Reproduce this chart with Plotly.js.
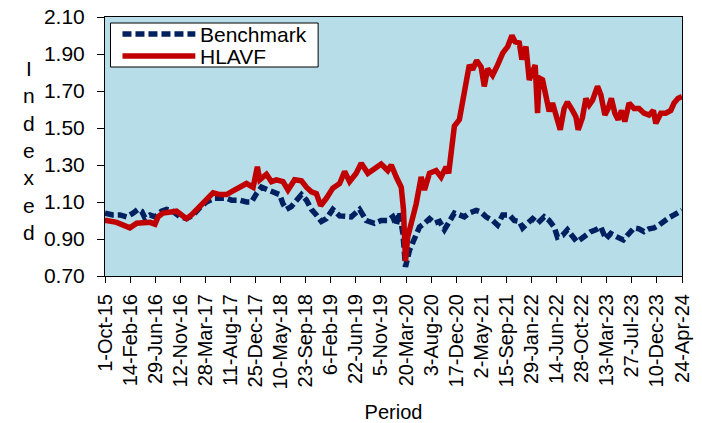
<!DOCTYPE html>
<html>
<head>
<meta charset="utf-8">
<script src="https://cdn.plot.ly/plotly-3.0.1.min.js"></script>
<style>
html,body{margin:0;padding:0;background:#fff;}
#chart{width:702px;height:423px;}
</style>
</head>
<body>
<div id="chart"></div>
<script>
// Day offsets from 1-Oct-2015 and indexed values
const benchDays = [0,43,81,117,152,179,199,216,244,271,307,334,368,406,442,478,514,550,595,632,659,686,731,767,794,821,848,884,920,947,965,983,1010,1037,1065,1092,1119,1146,1173,1200,1235,1272,1299,1335,1380,1416,1461,1497,1533,1560,1579,1596,1615,1629,1651,1678,1705,1732,1759,1786,1813,1840,1867,1894,1921,1948,1975,2012,2039,2066,2101,2128,2156,2192,2219,2246,2264,2291,2318,2345,2381,2408,2435,2453,2480,2507,2534,2558,2580,2607,2634,2661,2688,2715,2742,2778,2810,2841,2868,2895,2922,2949,2976,3003,3030,3057,3085,3110,3128];
const benchIndex = [1.04,1.03,1.03,1.02,1.04,1.06,1.05,1.015,1.03,1.02,1.05,1.06,1.05,1.02,1.01,1.03,1.07,1.10,1.12,1.12,1.12,1.11,1.11,1.10,1.10,1.145,1.18,1.165,1.155,1.14,1.09,1.06,1.075,1.11,1.14,1.11,1.06,1.03,0.995,1.01,1.06,1.025,1.02,1.02,1.06,1.00,0.985,1.00,1.00,1.02,0.975,1.045,0.93,0.75,0.84,0.895,0.965,0.985,1.01,0.985,0.995,0.95,1.00,1.04,1.03,1.02,1.04,1.055,1.045,1.02,1.00,0.975,1.03,1.03,1.00,0.995,0.96,0.985,1.01,0.985,1.02,1.00,0.965,0.91,0.92,0.95,0.92,0.885,0.90,0.92,0.94,0.95,0.965,0.90,0.93,0.91,0.895,0.93,0.96,0.955,0.94,0.955,0.96,0.975,1.00,1.015,1.03,1.04,1.055];

const fundDays = [0,9,63,108,135,172,206,244,271,288,314,352,388,415,442,469,496,523,550,586,622,659,694,731,767,803,826,839,875,902,929,965,992,1028,1065,1092,1119,1146,1169,1200,1235,1272,1299,1326,1362,1389,1425,1461,1497,1533,1552,1579,1606,1618,1629,1641,1660,1687,1714,1732,1759,1795,1822,1849,1863,1876,1894,1921,1939,1961,1975,1993,2015,2039,2056,2074,2101,2128,2156,2183,2206,2224,2246,2260,2282,2300,2322,2332,2345,2354,2372,2390,2408,2426,2445,2468,2489,2507,2534,2553,2565,2588,2607,2625,2643,2670,2688,2710,2728,2745,2764,2782,2800,2818,2841,2868,2895,2922,2949,2973,2986,3013,3040,3067,3085,3106,3128];
const fundIndex = [1.00,1.00,0.99,0.97,0.96,0.985,0.99,0.99,0.98,1.02,1.04,1.045,1.05,1.03,1.01,1.03,1.06,1.09,1.12,1.15,1.14,1.14,1.16,1.18,1.20,1.18,1.29,1.22,1.25,1.21,1.22,1.21,1.165,1.22,1.215,1.18,1.155,1.145,1.08,1.12,1.175,1.20,1.265,1.21,1.255,1.31,1.255,1.28,1.305,1.27,1.30,1.235,1.18,1.06,0.78,0.91,0.985,1.09,1.235,1.165,1.255,1.27,1.235,1.29,1.255,1.365,1.51,1.545,1.635,1.74,1.84,1.815,1.865,1.83,1.725,1.82,1.785,1.84,1.905,1.94,2.00,1.965,1.96,1.87,1.94,1.76,1.83,1.84,1.58,1.77,1.76,1.68,1.59,1.635,1.555,1.49,1.605,1.64,1.595,1.56,1.49,1.555,1.66,1.625,1.65,1.725,1.68,1.57,1.605,1.66,1.58,1.545,1.595,1.535,1.635,1.605,1.605,1.58,1.57,1.595,1.525,1.58,1.58,1.595,1.635,1.66,1.67];

const seriesNames = ['Benchmark', 'HLAVF'];
const tickLabels = ["1-Oct-15","14-Feb-16","29-Jun-16","12-Nov-16","28-Mar-17","11-Aug-17","25-Dec-17","10-May-18","23-Sep-18","6-Feb-19","22-Jun-19","5-Nov-19","20-Mar-20","3-Aug-20","17-Dec-20","2-May-21","15-Sep-21","29-Jan-22","14-Jun-22","28-Oct-22","13-Mar-23","27-Jul-23","10-Dec-23","24-Apr-24"];
const tickStepDays = 136;
const yTicks = [0.70,0.90,1.10,1.30,1.50,1.70,1.90,2.10];

const FONT = 'Arial, "Liberation Sans", sans-serif';
const tickVals = tickLabels.map((_, i) => i * tickStepDays);
const colors = ['#002060', '#C00000'];
const dashes = ['9px,4px', 'solid'];

// plot area geometry (px) for placing the hand-built legend box
const W = 702, H = 423, M = {l: 104.5, r: 19.5, t: 17, b: 147};
const pw = W - M.l - M.r, ph = H - M.t - M.b;
const px = x => (x - M.l) / pw;
const py = y => 1 - (y - M.t) / ph;

const traces = [
  {x: benchDays, y: benchIndex, name: seriesNames[0], type: 'scatter', mode: 'lines',
   line: {color: colors[0], width: 5.5, dash: dashes[0]}},
  {x: fundDays, y: fundIndex, name: seriesNames[1], type: 'scatter', mode: 'lines',
   line: {color: colors[1], width: 5.5, dash: dashes[1]}}
];

const legendRows = [34, 56];
const shapes = [
  {type: 'rect', xref: 'paper', yref: 'paper', x0: px(110), x1: px(318), y0: py(67), y1: py(23),
   fillcolor: '#ffffff', line: {color: '#000', width: 1}, layer: 'above'}
];
const annotations = [{
  text: 'I<br>n<br>d<br>e<br>x<br>e<br>d',
  xref: 'paper', yref: 'paper', x: px(28), y: py(150),
  xanchor: 'center', yanchor: 'middle', showarrow: false, align: 'center',
  font: {family: FONT, size: 21, color: '#000'}
}];
seriesNames.forEach((n, i) => {
  shapes.push({type: 'line', xref: 'paper', yref: 'paper', x0: px(122), x1: px(195),
    y0: py(legendRows[i]), y1: py(legendRows[i]),
    line: {color: colors[i], width: 5.5, dash: dashes[i]}, layer: 'above'});
  annotations.push({text: n, xref: 'paper', yref: 'paper', x: px(198), y: py(legendRows[i]),
    xanchor: 'left', yanchor: 'middle', showarrow: false,
    font: {family: FONT, size: 21, color: '#000'}});
});

const layout = {
  width: W, height: H,
  margin: M,
  paper_bgcolor: '#ffffff',
  plot_bgcolor: '#B7DDE8',
  font: {family: FONT, color: '#000', size: 20},
  showlegend: false,
  xaxis: {
    type: 'linear', range: [0, tickVals[tickVals.length - 1]],
    tickmode: 'array', tickvals: tickVals, ticktext: tickLabels,
    tickangle: -90, ticks: 'outside', ticklen: 6, tickcolor: '#000', tickwidth: 1,
    showgrid: false, zeroline: false,
    showline: true, linecolor: '#000', linewidth: 1, mirror: true,
    tickfont: {family: FONT, size: 20, color: '#000'},
    ticklabelstandoff: 3,
    title: {text: 'Period', font: {family: FONT, size: 20, color: '#000'}, standoff: 18}
  },
  yaxis: {
    range: [0.70, 2.10], tickmode: 'array', tickvals: yTicks,
    tickformat: '.2f', ticks: 'outside', ticklen: 7, tickcolor: '#000', tickwidth: 1,
    showgrid: false, zeroline: false,
    showline: true, linecolor: '#000', linewidth: 1, mirror: true,
    tickfont: {family: FONT, size: 21, color: '#000'},
    ticklabelstandoff: 8
  },
  shapes: shapes,
  annotations: annotations
};

Plotly.newPlot('chart', traces, layout, {displayModeBar: false, staticPlot: true});
</script>
</body>
</html>
